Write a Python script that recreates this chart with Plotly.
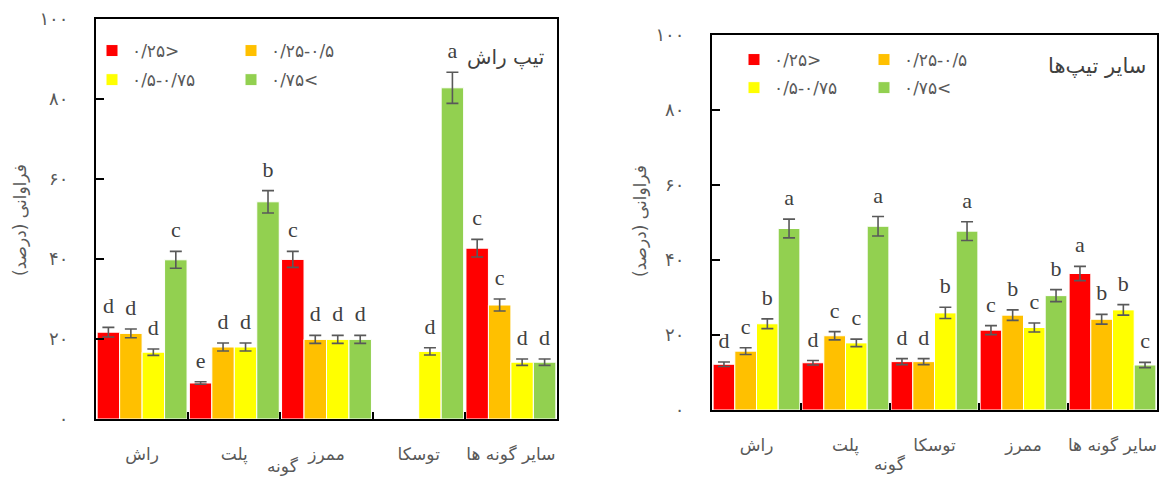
import plotly.graph_objects as go

# ---------------- data ----------------
classes = ["۰/۲۵>", "۰/۲۵-۰/۵", "۰/۵-۰/۷۵", "۰/۷۵<"]
colors = ["#FF0000", "#FFC000", "#FFFF00", "#92D050"]

cats_left = ["راش", "پلت", "ممرز", "توسکا", "سایر گونه ها"]
left_vals = [
    [21.7, 9.0, 39.9, None, 42.7],
    [21.4, 18.0, 19.9, None, 28.5],
    [16.7, 18.0, 19.9, 16.9, 14.2],
    [39.8, 54.3, 19.9, 82.8, 14.2],
]
left_err = [
    [1.2, 0.3, 2.0, None, 2.2],
    [1.1, 1.0, 1.0, None, 1.5],
    [0.8, 1.0, 1.0, 0.9, 0.8],
    [2.1, 2.8, 1.0, 3.9, 0.8],
]
left_letters = [
    ["d", "e", "c", "", "c"],
    ["d", "d", "d", "", "c"],
    ["d", "d", "d", "d", "d"],
    ["c", "b", "d", "a", "d"],
]

cats_right = ["راش", "پلت", "توسکا", "ممرز", "سایر گونه ها"]
right_vals = [
    [12.2, 12.6, 12.9, 21.3, 36.4],
    [15.7, 19.8, 12.9, 25.3, 24.2],
    [23.0, 17.9, 25.9, 22.0, 26.7],
    [48.4, 49.0, 47.7, 30.5, 12.0],
]
right_err = [
    [0.6, 0.6, 0.8, 1.2, 1.9],
    [0.9, 1.1, 0.8, 1.4, 1.3],
    [1.3, 1.0, 1.5, 1.2, 1.4],
    [2.5, 2.6, 2.5, 1.6, 0.7],
]
right_letters = [
    ["d", "d", "d", "c", "a"],
    ["c", "c", "d", "b", "b"],
    ["b", "c", "b", "c", "b"],
    ["a", "a", "a", "b", "c"],
]

y_tickvals = [0, 20, 40, 60, 80, 100]
y_ticktext = ["۰", "۲۰", "۴۰", "۶۰", "۸۰", "۱۰۰"]

title_left = "تیپ راش"
title_right = "سایر تیپ‌ها"
x_title = "گونه"
y_title = "فراوانی (درصد)"

# ---------------- figure ----------------
W, H = 1159, 482
PERSIAN_FONT = "DejaVu Sans"
GRAY = "#595959"
fig = go.Figure()

legend_map_left = ["legend", "legend2", "legend", "legend2"]
legend_map_right = ["legend3", "legend4", "legend3", "legend4"]


def add_panel(cats, vals, errs, letters, xa, ya, legends):
    for i in range(4):
        fig.add_trace(go.Bar(
            x=cats, y=vals[i], name=classes[i],
            marker=dict(color=colors[i], line=dict(color="white", width=1)),
            error_y=dict(type="data", array=errs[i], color=GRAY, thickness=1.6, width=6),
            xaxis=xa, yaxis=ya, legend=legends[i], legendgroup=f"g{i}{xa}",
            offsetgroup=str(i),
        ))
    for i in range(4):
        ytop = [None if v is None else v + e for v, e in zip(vals[i], errs[i])]
        fig.add_trace(go.Scatter(
            x=cats, y=ytop, mode="markers+text", text=letters[i],
            textposition="top center",
            marker=dict(size=12, opacity=0),
            textfont=dict(family="Liberation Serif", size=22, color="#404040"),
            xaxis=xa, yaxis=ya, showlegend=False, hoverinfo="skip",
            offsetgroup=str(i),
        ))


add_panel(cats_left, left_vals, left_err, left_letters, "x", "y", legend_map_left)
add_panel(cats_right, right_vals, right_err, right_letters, "x2", "y2", legend_map_right)


def px_x(p):
    return p / W


def px_y(p):
    return 1 - p / H


axis_common = dict(showline=True, linecolor="black", linewidth=2, mirror=True,
                   showgrid=False, zeroline=False)

xax = dict(axis_common, type="category", ticks="inside", ticklen=7, tickcolor="black",
           tickwidth=2, tickson="boundaries", ticklabelstandoff=19, tickangle=0,
           tickfont=dict(family=PERSIAN_FONT, size=17, color=GRAY))
yax = dict(axis_common, range=[0, 100], tickvals=y_tickvals, ticktext=y_ticktext,
           ticks="inside", ticklen=8, tickcolor="black", tickwidth=2,
           ticklabelstandoff=22,
           tickfont=dict(family=PERSIAN_FONT, size=18, color=GRAY))

legend_common = dict(orientation="v", bgcolor="rgba(0,0,0,0)", borderwidth=0,
                     font=dict(family=PERSIAN_FONT, size=17, color=GRAY),
                     traceorder="grouped",
                     xanchor="left", yanchor="top")

fig.update_layout(
    width=W, height=H,
    margin=dict(l=0, r=0, t=0, b=0, autoexpand=False),
    paper_bgcolor="white", plot_bgcolor="white",
    barmode="group", bargap=0.025, bargroupgap=0,
    scattermode="group", scattergap=0.025,
    showlegend=True,
    xaxis=dict(xax, domain=[px_x(96), px_x(557)], anchor="y",
               categoryorder="array", categoryarray=cats_left),
    yaxis=dict(yax, domain=[px_y(419), px_y(19)], anchor="x"),
    xaxis2=dict(xax, domain=[px_x(712), px_x(1157)], anchor="y2",
                categoryorder="array", categoryarray=cats_right),
    yaxis2=dict(yax, domain=[px_y(410), px_y(35)], anchor="x2"),
    legend=dict(legend_common, x=px_x(92), y=px_y(33), tracegroupgap=4),
    legend2=dict(legend_common, x=px_x(231), y=px_y(33), tracegroupgap=4),
    legend3=dict(legend_common, x=px_x(734), y=px_y(42), tracegroupgap=3),
    legend4=dict(legend_common, x=px_x(864), y=px_y(42), tracegroupgap=3),
    annotations=[
        dict(text=title_left, xref="paper", yref="paper", x=px_x(546), y=px_y(57),
             xanchor="right", yanchor="middle", showarrow=False,
             font=dict(family=PERSIAN_FONT, size=20, color="#404040")),
        dict(text=title_right, xref="paper", yref="paper", x=px_x(1148), y=px_y(66),
             xanchor="right", yanchor="middle", showarrow=False,
             font=dict(family=PERSIAN_FONT, size=21, color="#404040")),
        dict(text=x_title, xref="paper", yref="paper", x=px_x(283), y=px_y(466),
             xanchor="center", yanchor="middle", showarrow=False,
             font=dict(family=PERSIAN_FONT, size=17, color=GRAY)),
        dict(text=x_title, xref="paper", yref="paper", x=px_x(890), y=px_y(464),
             xanchor="center", yanchor="middle", showarrow=False,
             font=dict(family=PERSIAN_FONT, size=17, color=GRAY)),
        dict(text=y_title, xref="paper", yref="paper", x=px_x(20), y=px_y(220),
             xanchor="center", yanchor="middle", showarrow=False, textangle=-90,
             font=dict(family=PERSIAN_FONT, size=17, color=GRAY)),
        dict(text=y_title, xref="paper", yref="paper", x=px_x(640), y=px_y(221),
             xanchor="center", yanchor="middle", showarrow=False, textangle=-90,
             font=dict(family=PERSIAN_FONT, size=17, color=GRAY)),
    ],
)

fig.write_html("out.html")
